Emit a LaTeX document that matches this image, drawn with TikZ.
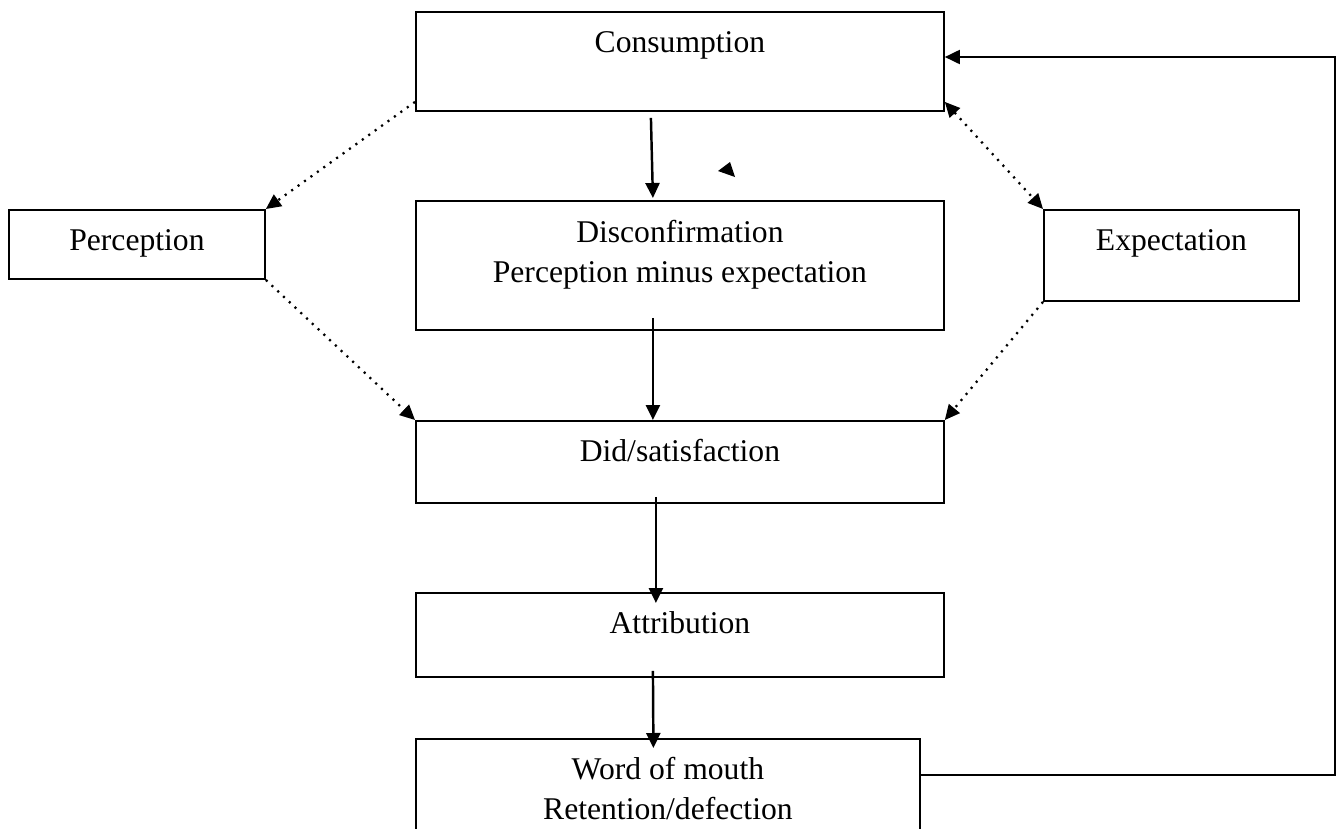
\documentclass[tikz,border=0pt]{standalone}
\usepackage{fontspec}
\setmainfont{Liberation Serif}
\usetikzlibrary{arrows.meta}

\begin{document}
\begin{tikzpicture}[x = 0.02cm, y = -0.02cm,
	box/.style = {draw, line width = 1.1pt, inner sep = 0pt, anchor = north west, align = center, text height = 0.82cm, font = \fontsize{18}{23.3}\selectfont},
	flow/.style = {line width = 1.4pt, -{Triangle[length = 0.3cm, width = 0.28cm]}},
	link/.style = {line width = 1.3pt, dash pattern = on 1.2pt off 3.3pt, -{Triangle[length = 0.3cm, width = 0.28cm]}},
	back/.style = {line width = 1.1pt, -{Triangle[length = 0.3cm, width = 0.28cm]}}]
	 \useasboundingbox (0, 0) rectangle (1340, 829);
	 
	 \node[box, minimum width = 10.56cm, text depth = 1.16cm] (cons) at (415, 11) {Consumption};
	 \node[box, minimum width = 5.12cm, text depth = 0.56cm] (perc) at (8, 209) {Perception};
	 \node[box, minimum width = 10.56cm, text height = 1.64cm, text depth = 0.94cm] (dis) at (415, 200) {Disconfirmation\\Perception minus expectation};
	 \node[box, minimum width = 5.1cm, text depth = 1.0cm] (expe) at (1043, 209) {Expectation};
	 \node[box, minimum width = 10.56cm, text depth = 0.82cm] (did) at (415, 420) {Did/satisfaction};
	 \node[box, minimum width = 10.56cm, text depth = 0.86cm] (att) at (415, 592) {Attribution};
	 \node[box, minimum width = 10.08cm, text height = 1.62cm, text depth = 0.4cm] (wom) at (415, 738) {Word of mouth\\Retention/defection};
	 
	 \draw[flow] ([xshift=-0.58cm, yshift=-0.12cm]cons.south) -- ([xshift=-0.54cm, yshift=0.04cm]dis.north);
	 \draw[flow] ([xshift=-0.54cm, yshift=0.26cm]dis.south) -- ([xshift=-0.54cm]did.north);
	 \draw[flow] ([xshift=-0.48cm, yshift=0.14cm]did.south) -- ([xshift=-0.48cm, yshift=-0.22cm]att.north);
	 \draw[flow] ([xshift=-0.54cm, yshift=0.14cm]att.south) -- ([xshift=-0.29cm, yshift=-0.2cm]wom.north);
	 
	 \draw[link] ([yshift=0.2cm]cons.south west) -- (perc.north east);
	 \draw[link] (perc.south east) -- (did.north west);
	 \draw[link, {Triangle[length = 0.3cm, width = 0.28cm]}-{Triangle[length = 0.3cm, width = 0.28cm]}] ([yshift=0.2cm]cons.south east) -- (expe.north west);
	 \draw[link] (expe.south west) -- (did.north east);
	 
	 \coordinate (bend) at (1335, 775);
	 \coordinate (corner) at (1335, 57);
	 \draw[back] (wom.east |- bend) -- (bend) -- (corner) -- (cons.east |- corner);
	 
	 \fill (718, 171) -- (730, 162) -- (735, 177) -- cycle;
\end{tikzpicture}
\end{document}
